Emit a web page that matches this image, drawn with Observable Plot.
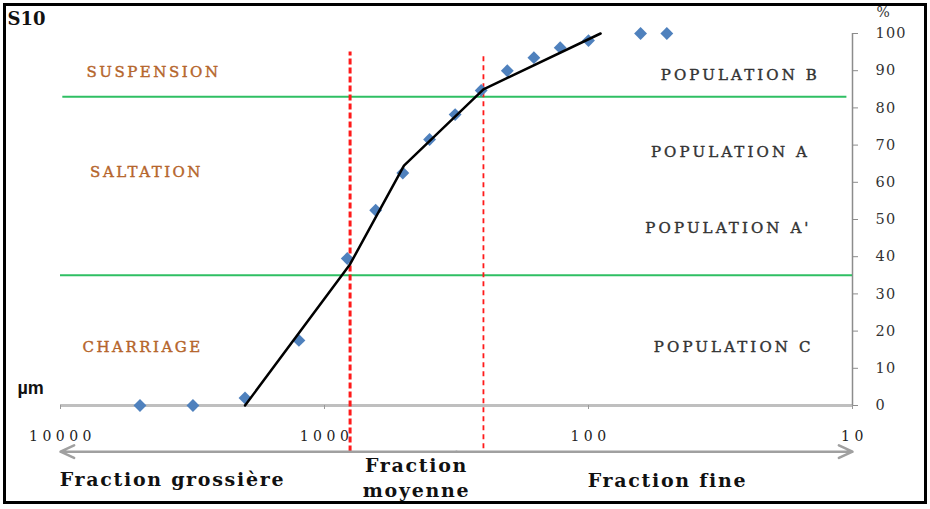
<!DOCTYPE html>
<html><head><meta charset="utf-8">
<script src="https://cdn.jsdelivr.net/npm/d3@7"></script>
<script src="https://cdn.jsdelivr.net/npm/@observablehq/plot@0.6"></script>
<style>
html,body{margin:0;padding:0;background:#fff;}
#wrap{position:relative;width:930px;height:509px;overflow:hidden;background:#fff;}
#wrap svg{position:absolute;left:0;top:0;}
#border{position:absolute;left:3px;top:3px;width:918px;height:495px;border:3px solid #000;pointer-events:none;}
</style></head><body><div id="wrap"><div id="border"></div></div>
<script>
// grain sizes (µm) and cumulative percentages
const sizes  = [5000, 3150, 2000, 1250, 820, 640, 505, 400, 320, 255, 203, 161, 128, 100, 63.5, 50.5];
const cumPct = [0, 0, 2, 17.5, 39.5, 52.5, 62.5, 71.5, 78.2, 84.7, 90, 93.5, 96.2, 98.1, 100, 100];

// fitted segments
const fitSizes  = [2000, 800, 500, 250, 90];
const fitValues = [0, 38, 64.5, 85, 100];

// thresholds
const greenLevels = [83, 35];
const greenFrom = [9800, 10000];
const greenTo = [10.5, 10];
const redSizes = [800, 250];
const redTop = [95, 94];
const redBottom = [-12.5, -11.6];

// axes ticks
const xTicks = [10000, 1000, 100, 10];
const yTicks = [0, 10, 20, 30, 40, 50, 60, 70, 80, 90, 100];

// annotation labels
const modeLabels = ["SUSPENSION", "SALTATION", "CHARRIAGE"];
const modeX = [4443, 4721, 4888];
const modeY = [89.5, 62.6, 15.6];
const popLabels = ["POPULATION B", "POPULATION A", "POPULATION A'", "POPULATION C"];
const popX = [26.6, 29.0, 29.5, 28.2];
const popY = [88.7, 68.0, 47.6, 15.6];
const fracLabels = ["Fraction grossière", "Fraction\nmoyenne", "Fraction fine"];
const fracX = [3767, 448, 50.2];
const fracY = [-19.6, -19.2, -19.9];
const arrowY = -12.4;

const points = sizes.map((s, i) => ({size: s, pct: cumPct[i]}));
const fit = fitSizes.map((s, i) => ({size: s, pct: fitValues[i]}));
const greens = greenLevels.map((v, i) => ({v, x1: greenFrom[i], x2: greenTo[i]}));
const reds = redSizes.map((s, i) => ({s, y1: redBottom[i], y2: redTop[i], i}));
const modes = modeLabels.map((t, i) => ({t, x: modeX[i], y: modeY[i]}));
const pops = popLabels.map((t, i) => ({t, x: popX[i], y: popY[i]}));
const fracs = fracLabels.map((t, i) => ({t, x: fracX[i], y: fracY[i]}));
const center = Math.sqrt(xTicks[0] * xTicks[xTicks.length - 1]);
const arrows = [{x1: center, x2: xTicks[0]}, {x1: center, x2: xTicks[xTicks.length - 1]}];

const chart = Plot.plot({
  width: 930, height: 509,
  marginLeft: 60, marginRight: 78, marginTop: 33, marginBottom: 104,
  x: {type: "log", domain: [10000, 10]},
  y: {domain: [0, 100]},
  style: {background: "transparent", fontFamily: "DejaVu Serif", color: "#222"},
  marks: [
    Plot.ruleY([0], {x1: 10000, x2: 10, stroke: "#bfbfbf", strokeWidth: 3}),
    Plot.ruleX([10], {y1: 0, y2: 100, stroke: "#8c8c8c", strokeWidth: 1.5}),
    Plot.axisX({ticks: xTicks, tickFormat: d => String(d), tickSize: 4, tickPadding: 22, stroke: "#999", fill: "#222", fontSize: 14, label: null}),
    Plot.axisY({anchor: "right", ticks: yTicks, tickSize: 5, tickPadding: 18, stroke: "#8c8c8c", fill: "#333", fontSize: 14.5, label: null}),
    Plot.ruleY(greens, {y: "v", x1: "x1", x2: "x2", stroke: "#2fbf63", strokeWidth: 2}),
    Plot.ruleX(reds.slice(0, 1), {x: "s", y1: "y1", y2: "y2", stroke: "#ff1a1a", strokeWidth: 3, strokeDasharray: "6,3"}),
    Plot.ruleX(reds.slice(1), {x: "s", y1: "y1", y2: "y2", stroke: "#ff1a1a", strokeWidth: 1.8, strokeDasharray: "5,4"}),
    Plot.arrow(arrows, {x1: "x1", x2: "x2", y1: arrowY, y2: arrowY, stroke: "#a0a0a0", strokeWidth: 2.5, headLength: 9, headAngle: 50}),
    Plot.dot(points, {x: "size", y: "pct", symbol: "diamond2", r: 5.8, fill: "#4f81bd", stroke: "none"}),
    Plot.line(fit, {x: "size", y: "pct", stroke: "#000", strokeWidth: 2.5}),
    Plot.text(modes, {x: "x", y: "y", text: "t", fill: "#b5652b", stroke: "#b5652b", strokeWidth: 0.4, fontSize: 15, ariaDescription: "modes"}),
    Plot.text(pops, {x: "x", y: "y", text: "t", fill: "#333", stroke: "#333", strokeWidth: 0.4, fontSize: 15, ariaDescription: "pops"}),
    Plot.text(fracs, {x: "x", y: "y", text: "t", fill: "#111", fontSize: 19, fontWeight: "bold", lineHeight: 1.3, ariaDescription: "fracs"}),
    Plot.text(["S10"], {frameAnchor: "top-left", dx: -53, dy: -21, fontSize: 18, fontWeight: "bold", fill: "#111"}),
    Plot.text(["%"], {frameAnchor: "top-right", textAnchor: "start", dx: 24, dy: -26, fontSize: 14, fill: "#333"}),
    Plot.text(["µm"], {frameAnchor: "bottom-left", dx: -43, dy: -12, fontSize: 18, fontWeight: "bold", fontFamily: "Liberation Sans", fill: "#111"})
  ]
});
document.getElementById("wrap").insertBefore(chart, document.getElementById("border"));
const sel = d3.select(chart);
sel.selectAll('g[aria-label^="x-axis"] text').style("letter-spacing", "4.5px").attr("dx", "2");
sel.selectAll('g[aria-label^="y-axis"] text').style("letter-spacing", "1.2px");
sel.selectAll('g[aria-description="modes"] text').style("letter-spacing", "2.5px");
sel.selectAll('g[aria-description="pops"] text').style("letter-spacing", "3.1px");
sel.selectAll('g[aria-description="fracs"] text').style("letter-spacing", "1.7px");
</script></body></html>
